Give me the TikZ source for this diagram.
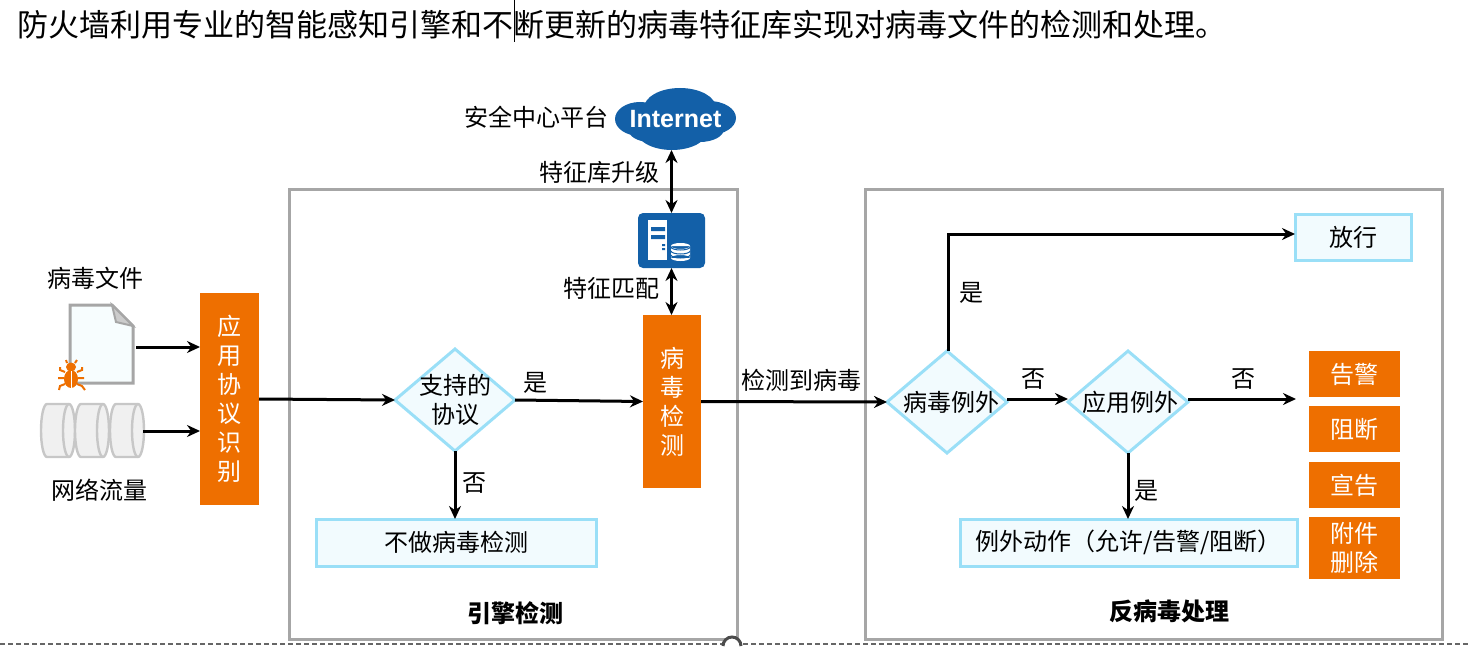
\documentclass[tikz,border=0pt]{standalone}
\usepackage{fontspec}
\setmainfont{Noto Sans CJK SC}
\newfontfamily\latinbold{Liberation Sans}
\usetikzlibrary{arrows.meta,shapes.geometric}
\definecolor{hworange}{HTML}{EE6F00}
\definecolor{hwblue}{HTML}{1360A8}
\definecolor{framegray}{HTML}{A6A6A6}
\definecolor{paleline}{HTML}{9ADFF7}
\definecolor{palefill}{HTML}{F2FBFE}
\tikzset{
  every node/.style={font=\fontsize{12}{14.5}\selectfont,inner sep=0pt,outer sep=0pt,align=center},
  flow/.style={draw=black,line width=1.5pt,-{Stealth[length=6.5pt,width=6pt]}},
  twoway/.style={draw=black,line width=1.5pt,{Stealth[length=6.5pt,width=6pt]}-{Stealth[length=6.5pt,width=6pt]}},
  groupbox/.style={draw=framegray,line width=1.5pt,minimum width=#1,minimum height=224.5pt},
  orangebox/.style={fill=hworange,text=white},
  palebox/.style={draw=paleline,fill=palefill,line width=1.5pt},
  choice/.style={diamond,draw=paleline,fill=palefill,line width=1.5pt,inner sep=-7pt,minimum width=60pt,minimum height=51pt},
  pipebody/.style={draw=black!22,line width=1.2pt,fill=black!6},
}
\begin{document}
\begin{tikzpicture}[x=0.5pt,y=-0.5pt]
  \useasboundingbox (0,0) rectangle (1468,647);
  % heading
  \node[anchor=west,font=\fontsize{15.5}{18}\selectfont] (title) at (18,25)
    {防火墙利用专业的智能感知引擎和不断更新的病毒特征库实现对病毒文件的检测和处理。};
  \draw[line width=0.8pt] (514.5,0) -- (514.5,42);
  % slide edge
  \draw[draw=black!60,line width=0.8pt,dash pattern=on 2.5pt off 1.5pt] (0,644) -- (722,644);
  \draw[draw=black!60,line width=0.8pt,dash pattern=on 2.5pt off 1.5pt] (743,644) -- (1468,644);
  % group frames
  \node[groupbox=224pt] (engine) at (513.5,414.5) {};
  \node[groupbox=288.5pt] (antivirus) at (1154,414.5) {};
  \node[font=\fontsize{12}{14.5}\selectfont\bfseries] (enginetxt) at (515,613) {引擎检测};
  \node[font=\fontsize{12}{14.5}\selectfont\bfseries] (avtxt) at (1169,611) {反病毒处理};
  \draw[draw=black!70,line width=1.5pt,fill=white] (723,646) arc (180:360:9 and 9);
  % left inputs
  \node (filetxt) at (95,278) {病毒文件};
  \node (nettxt) at (99,490) {网络流量};
  \draw[draw=framegray,line width=1.5pt,fill=palefill!60] (70,305) -- (112,305) -- (133,326) -- (133,383) -- (70,383) -- cycle;
  \draw[draw=framegray,line width=1pt,fill=black!20] (112,305) -- (116,322) -- (133,326) -- cycle;
  \coordinate (fileout) at (136,347);
  % bug
  \fill[hworange] (71,379) ellipse (7 and 9);
  \fill[hworange] (71,367) ellipse (5 and 4.5);
  \draw[draw=white,line width=0.4pt] (71,371) -- (71,388);
  \draw[draw=hworange,line width=1pt] (67,363) -- (66,360) (75,363) -- (77,360)
    (65,372) -- (60,370) -- (60,367) (77,372) -- (82,370) -- (82,367)
    (64,378) -- (58,378) (78,378) -- (84,378)
    (65,384) -- (60,386) -- (59,390) (77,384) -- (82,386) -- (85,390);
  % traffic
  \foreach \px in {47,81,116} {
    \draw[pipebody] (\px,404) -- (\px+22,404) arc (-90:90:6 and 26.5) -- (\px,457) arc (90:270:6 and 26.5) -- cycle;
    \draw[pipebody,fill=none] (\px+22,404) arc (270:90:6 and 26.5);
  }
  \coordinate (pipeout) at (143,431);
  \node[orangebox,minimum width=29.5pt,minimum height=106pt] (proto) at (229.5,399) {应\\用\\协\\议\\识\\别};
  \draw[flow] (fileout) -- (fileout -| proto.west);
  \draw[flow] (pipeout) -- (pipeout -| proto.west);
  % engine
  \node[choice] (support) at (455,400) {支持的\\协议};
  \node[orangebox,minimum width=29pt,minimum height=86.5pt] (scan) at (672,401.5) {病\\毒\\检\\测};
  \node[palebox,minimum width=140pt,minimum height=23.5pt] (noscan) at (456,542.5) {不做病毒检测};
  \draw[flow] (proto.east) -- (support.west);
  \draw[flow] (support.east) -- (scan.west);
  \draw[flow] (support.south) -- (support.south |- noscan.north);
  \node (yesa) at (535,383) {是};
  \node (noa) at (474,483) {否};
  % signature database
  \node[fill=hwblue,rounded corners=2.5pt,minimum width=33.5pt,minimum height=27.5pt] (server) at (671.5,240.5) {};
  \fill[white] (648,220) rectangle (667,260);
  \fill[hwblue] (651,227) rectangle (665,231) (651,235) rectangle (665,239) (662,244) rectangle (665,246) (662,248) rectangle (665,250);
  \fill[white] (671,246) rectangle (690,258) (680.5,258) ellipse (9.5 and 3) (680.5,246) ellipse (9.5 and 3);
  \draw[draw=hwblue,line width=0.5pt] (671,247) arc (180:0:9.5 and 3) (671,251) arc (180:0:9.5 and 3) (671,255) arc (180:0:9.5 and 3);
  % cloud
  \fill[hwblue] (680,108) ellipse (36 and 20) (640,119) ellipse (25 and 17) (709,118) ellipse (27 and 17)
    (672,130) ellipse (36 and 20) (650,129) ellipse (22 and 13) (700,129) ellipse (24 and 13);
  \node[text=white,minimum width=60pt,minimum height=31pt,font=\fontsize{12.5}{14.5}\selectfont\latinbold\bfseries] (cloud) at (675.5,119) {Internet};
  \node[anchor=east] (platform) at (608,117) {安全中心平台};
  \node[anchor=east] (updatetxt) at (659,172) {特征库升级};
  \node[anchor=east] (matchtxt) at (659,288) {特征匹配};
  \draw[twoway] (server.north) -- (server.north |- cloud.south);
  \draw[twoway] (server.south) -- (server.south |- scan.north);
  % antivirus handling
  \node[choice] (virusex) at (947,402) {\hspace*{4pt}病毒例外};
  \node[choice] (appex) at (1128,402) {\hspace*{2pt}应用例外};
  \node[palebox,minimum width=58pt,minimum height=23pt] (allow) at (1353,237) {放行};
  \node[palebox,minimum width=168.5pt,minimum height=23.5pt] (exact) at (1128.5,542.5) {例外动作（允许/告警/阻断）};
  \node[orangebox,minimum width=45.5pt,minimum height=23pt] (alarm) at (1354.5,374) {告警};
  \node[orangebox,minimum width=45.5pt,minimum height=23pt] (block) at (1354.5,429) {阻断};
  \node[orangebox,minimum width=45.5pt,minimum height=23pt] (announce) at (1354.5,485) {宣告};
  \node[orangebox,minimum width=45.5pt,minimum height=31pt] (remove) at (1354.5,548) {附件\\删除};
  \coordinate (actions) at (1296,399);
  \draw[flow] (scan.east) -- (virusex.west);
  \draw[flow] ([yshift=1.5pt]virusex.east) -- ([yshift=1.5pt]appex.west);
  \draw[flow] ([yshift=1.5pt]appex.east) -- (actions);
  \draw[flow] ([xshift=0.5pt]virusex.north) |- ([yshift=1.5pt]allow.west);
  \draw[flow] (appex.south) -- (exact.north -| appex.south);
  \node (foundtxt) at (801,380) {检测到病毒};
  \node (nob) at (1033,379) {否};
  \node (noc) at (1243,379) {否};
  \node (yesb) at (971,293) {是};
  \node (yesc) at (1146,491) {是};
\end{tikzpicture}
\end{document}
